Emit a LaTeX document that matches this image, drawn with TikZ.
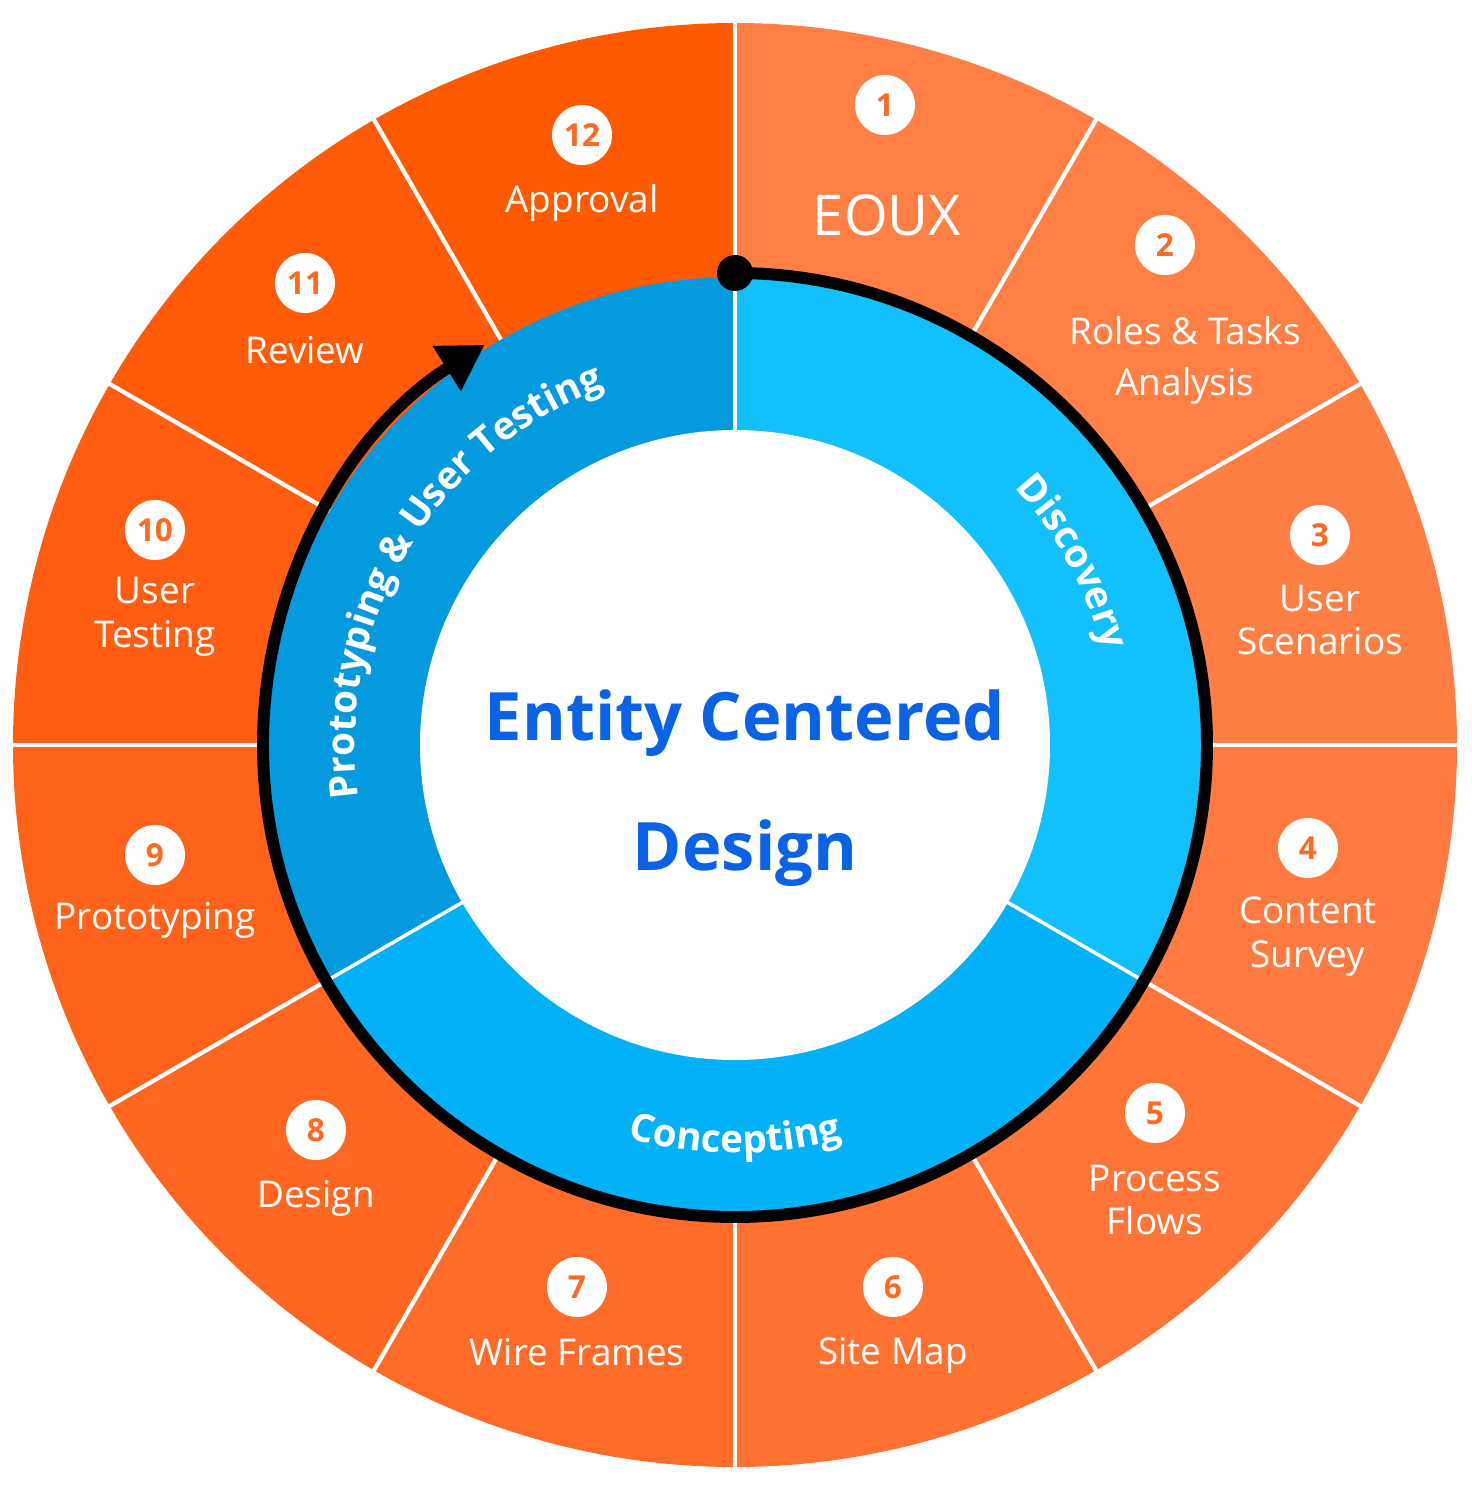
\documentclass[tikz,border=0pt]{standalone}
\usepackage{fontspec}
\setmainfont{Open Sans}
\usetikzlibrary{decorations.text,arrows.meta}
\definecolor{titleblue}{HTML}{0A62E6}
\definecolor{discblue}{HTML}{12C0FC}
\definecolor{concblue}{HTML}{03B2F6}
\definecolor{protblue}{HTML}{0599DE}
\definecolor{numorange}{HTML}{FF6A20}
\tikzset{
    numdot/.style={circle, fill=white, minimum size=0.6cm, inner sep=0pt, text=numorange, font=\fontsize{9}{10}\selectfont\bfseries},
    steplabel/.style={text=white, align=center, font=\fontsize{10.5}{12.5}\selectfont},
    ringtext/.style={decorate, decoration={text along path, text align=center, text color=white, text={#1}}}
}
\begin{document}
\begin{tikzpicture}
    % variables
    \def\outerR{7.22}
    \def\ringR{4.68}
    \def\innerR{3.15}
    \def\arcR{4.72}

    \useasboundingbox (-7.35,-7.47) rectangle (7.36,7.45);

    % Outer sectors
    \foreach \i/\col in {1/FF7F45, 2/FF7F45, 3/FF7E44, 4/FF7A40, 5/FF7538, 6/FF7232,
                         7/FF6C2A, 8/FF6622, 9/FF621A, 10/FF5E12, 11/FF5B08, 12/FF5A00} {
        \definecolor{sec}{HTML}{\col}
        \pgfmathsetmacro{\sa}{90-30*(\i-1)}
        \pgfmathsetmacro{\ea}{90-30*\i}
        \fill[sec] (0,0) -- (\sa:\outerR) arc[start angle=\sa, end angle=\ea, radius=\outerR] -- cycle;
    }
    \foreach \a in {0,30,...,330}
        \draw[white, line width=1.2pt] (\a:\ringR) -- (\a:7.4);

    % Inner blue ring
    \fill[discblue] (0,0) -- (90:\ringR) arc[start angle=90, end angle=-30, radius=\ringR] -- cycle;
    \fill[concblue] (0,0) -- (-30:\ringR) arc[start angle=-30, end angle=-150, radius=\ringR] -- cycle;
    \fill[protblue] (0,0) -- (210:\ringR) arc[start angle=210, end angle=90, radius=\ringR] -- cycle;
    \foreach \a in {90,-30,210}
        \draw[white, line width=1pt] (0,0) -- (\a:\ringR);
    \fill[white] (0,0) circle (\innerR);

    % Black process arc
    \draw[line width=3.4pt, -{Triangle[length=0.45cm, width=0.5cm]}] (90:\arcR) arc[start angle=90, end angle=-238, radius=\arcR];
    \fill[black] (90:\arcR) circle (0.18);

    % Ring labels
    \path[ringtext={|\fontsize{11}{13}\selectfont\bfseries|Discovery}] (62:3.80) arc[start angle=62, end angle=-5, radius=3.80];
    \path[ringtext={|\fontsize{11}{13}\selectfont\bfseries|Concepting}] (225:4.08) arc[start angle=225, end angle=315, radius=4.08];
    \path[ringtext={|\fontsize{11}{13}\selectfont\bfseries|Prototyping {\&} User Testing}] (195:3.80) arc[start angle=195, end angle=103, radius=3.80];

    % Steps
    \foreach \i/\nx/\ny/\tx/\ty/\txt in {
        2/4.30/5.00/4.50/3.85/{Roles \& Tasks\\[2pt]Analysis},
        3/5.85/2.10/5.85/1.25/{User\\Scenarios},
        4/5.73/-1.03/5.73/-1.92/{Content\\Survey},
        5/4.20/-3.68/4.20/-4.55/{Process\\Flows},
        6/1.58/-5.42/1.58/-6.10/{Site Map},
        7/-1.58/-5.42/-1.58/-6.07/{Wire Frames},
        8/-4.19/-3.85/-4.19/-4.53/{Design},
        9/-5.80/-1.10/-5.80/-1.75/{Prototyping},
        10/-5.80/2.15/-5.80/1.28/{User\\Testing},
        11/-4.30/4.62/-4.30/3.95/{Review},
        12/-1.53/6.10/-1.53/5.42/{Approval}} {
        \node[numdot] (num\i) at (\nx,\ny) {\i};
        \node[steplabel] (step\i) at (\tx,\ty) {\txt};
    }
    \node[numdot] (num1) at (1.50,6.40) {1};
    \node[text=white, font=\fontsize{16}{19}\selectfont] (step1) at (1.52,5.30) {EOUX};

    % Title
    \node[text=titleblue, align=center, font=\fontsize{19}{37}\selectfont\bfseries] (title) at (0.1,-0.43) {Entity Centered\\Design};
\end{tikzpicture}
\end{document}
